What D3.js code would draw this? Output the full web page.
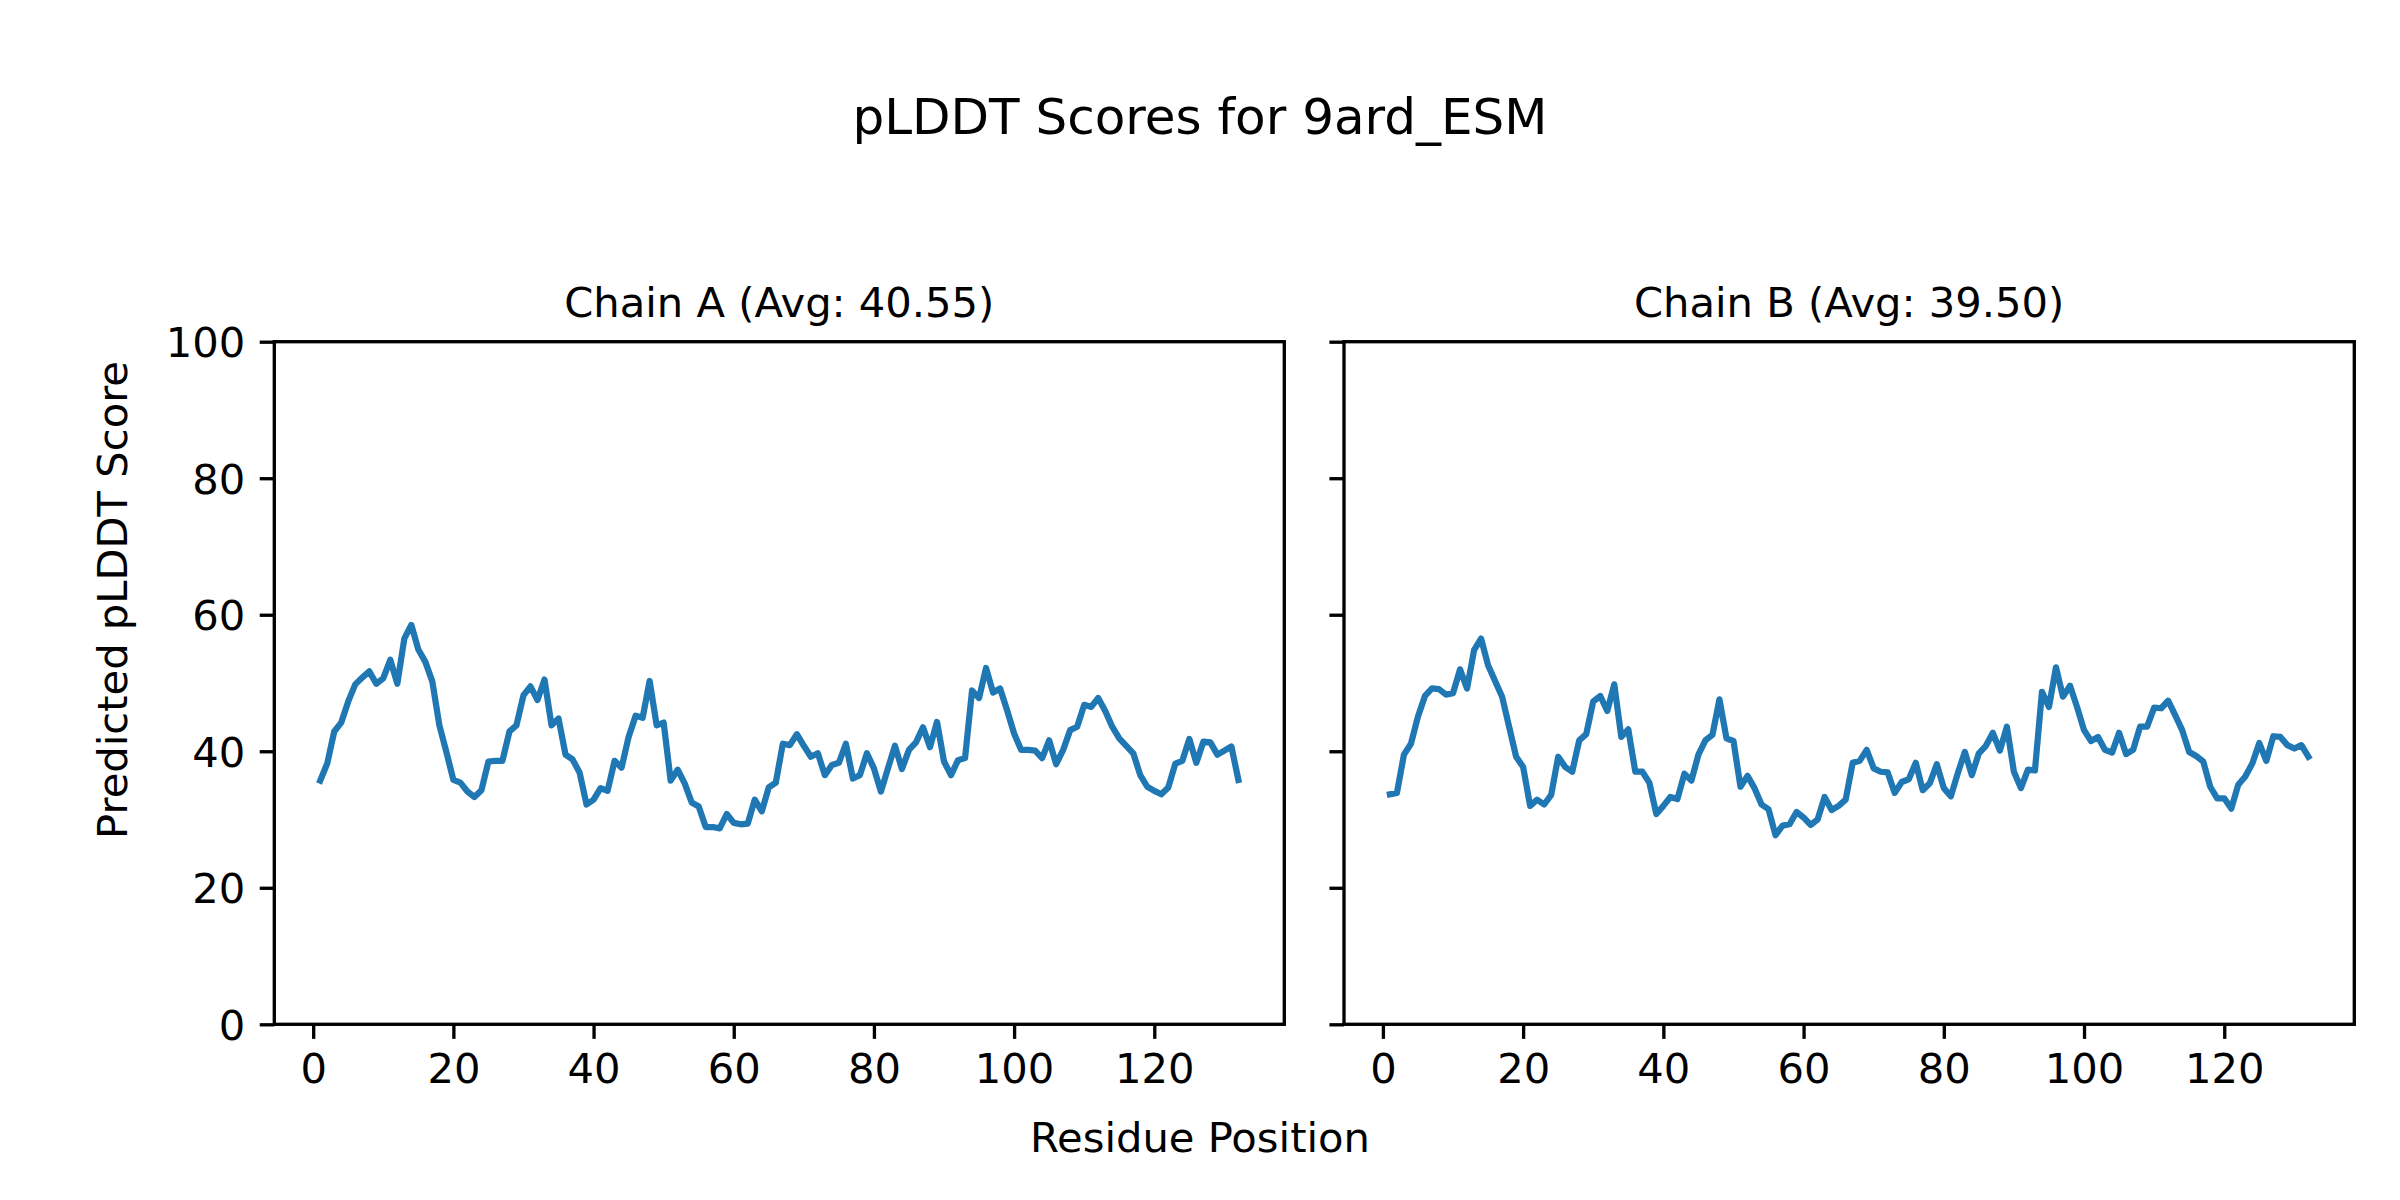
<!DOCTYPE html>
<html>
<head>
<meta charset="utf-8">
<script src="https://cdn.jsdelivr.net/npm/d3@7"></script>
<style>
  html, body { margin: 0; padding: 0; background: #ffffff; }
  svg { display: block; }
  text { font-family: "DejaVu Sans", sans-serif; fill: #000; }
</style>
</head>
<body>
<svg id="chart" width="2400" height="1200"></svg>
<script>
// ---- Data ----
const figTitle = "pLDDT Scores for 9ard_ESM";
const chainNames = ["Chain A (Avg: 40.55)", "Chain B (Avg: 39.50)"];
const xLabel = "Residue Position";
const yLabel = "Predicted pLDDT Score";
const xTicks = [0, 20, 40, 60, 80, 100, 120];
const yTicks = [0, 20, 40, 60, 80, 100];

const chainA = [
  35.7, 38.2, 42.9, 44.2, 47.3, 49.8, 50.8, 51.7, 49.9, 50.7,
  53.4, 49.9, 56.5, 58.5, 54.9, 53.1, 50.2, 43.8, 39.9, 35.8,
  35.4, 34.1, 33.3, 34.3, 38.5, 38.6, 38.6, 42.9, 43.8, 48.2,
  49.5, 47.5, 50.5, 43.8, 44.8, 39.5, 38.8, 36.9, 32.2, 32.9,
  34.6, 34.2, 38.6, 37.6, 42.1, 45.2, 44.9, 50.3, 43.8, 44.2,
  35.7, 37.3, 35.3, 32.5, 31.9, 28.9, 28.9, 28.7, 30.8, 29.5,
  29.3, 29.4, 32.9, 31.2, 34.7, 35.4, 41.1, 40.9, 42.5, 40.8,
  39.2, 39.7, 36.5, 38.0, 38.3, 41.1, 36.0, 36.5, 39.7, 37.5,
  34.1, 37.5, 40.8, 37.4, 40.2, 41.3, 43.5, 40.6, 44.3, 38.5,
  36.5, 38.7, 39.0, 48.9, 47.8, 52.2, 48.6, 49.2, 46.0, 42.6,
  40.2, 40.2, 40.1, 39.0, 41.6, 38.1, 40.2, 43.1, 43.6, 46.8,
  46.5, 47.8, 45.9, 43.6, 41.9, 40.8, 39.7, 36.5, 34.8, 34.2,
  33.7, 34.7, 38.2, 38.6, 41.8, 38.3, 41.4, 41.3, 39.5, 40.1,
  40.7, 35.8
];
const chainB = [
  33.7, 33.9, 39.5, 41.1, 45.1, 48.1, 49.2, 49.1, 48.3, 48.5,
  52.0, 49.2, 54.8, 56.5, 52.6, 50.3, 48.0, 43.6, 39.2, 37.7,
  32.0, 32.9, 32.2, 33.6, 39.2, 37.7, 37.0, 41.6, 42.5, 47.3,
  48.1, 45.9, 49.8, 42.1, 43.2, 37.0, 37.0, 35.4, 30.8, 32.0,
  33.3, 33.0, 36.7, 35.7, 39.5, 41.6, 42.4, 47.6, 41.9, 41.5,
  34.8, 36.4, 34.6, 32.2, 31.5, 27.7, 29.1, 29.3, 31.1, 30.3,
  29.2, 30.0, 33.3, 31.4, 32.0, 32.9, 38.3, 38.6, 40.2, 37.5,
  37.0, 36.9, 33.9, 35.5, 35.9, 38.3, 34.3, 35.3, 38.1, 34.6,
  33.4, 36.8, 39.9, 36.5, 39.7, 40.8, 42.7, 40.1, 43.6, 37.0,
  34.6, 37.3, 37.2, 48.7, 46.5, 52.3, 48.0, 49.6, 46.5, 43.1,
  41.5, 42.1, 40.2, 39.8, 42.7, 39.6, 40.2, 43.6, 43.6, 46.4,
  46.3, 47.4, 45.3, 43.1, 39.9, 39.3, 38.5, 34.8, 33.1, 33.1,
  31.6, 35.1, 36.3, 38.2, 41.2, 38.6, 42.2, 42.1, 40.9, 40.4,
  40.9, 39.2
];
const chains = [chainA, chainB];

// ---- Layout (matplotlib-like, 300 dpi) ----
const pt = 300 / 72;
const W = 2400, H = 1200;
const plotTop = 341.7, plotBottom = 1024.3;
const panels = [{left: 274.3, right: 1284.3}, {left: 1344.0, right: 2354.3}];
const tickLen = 3.5 * pt, tickPad = 3.5 * pt, spineW = 0.8 * pt;
const fs = 10 * pt;       // 41.7px
const titleFs = 12 * pt;  // 50px
const lineColor = "#1f77b4";

const svg = d3.select("#chart");
svg.append("rect").attr("width", W).attr("height", H).attr("fill", "#fff");

const y = d3.scaleLinear().domain([0, 100]).range([plotBottom, plotTop]);

chains.forEach((vals, ci) => {
  const p = panels[ci];
  const n = vals.length;
  const margin = (n - 1) * 0.05;
  const x = d3.scaleLinear().domain([1 - margin, n + margin]).range([p.left, p.right]);

  const g = svg.append("g");

  // line
  const line = d3.line().x((d, i) => x(i + 1)).y(d => y(d));
  g.append("path")
    .datum(vals)
    .attr("d", line)
    .attr("fill", "none")
    .attr("stroke", lineColor)
    .attr("stroke-width", 1.5 * pt)
    .attr("stroke-linejoin", "round")
    .attr("stroke-linecap", "square");

  // x axis
  const xa = g.append("g")
    .attr("transform", `translate(0,${plotBottom})`)
    .call(d3.axisBottom(x).tickValues(xTicks).tickFormat(d3.format("d"))
      .tickSize(tickLen).tickSizeOuter(0).tickPadding(tickPad));
  xa.select(".domain").remove();
  xa.selectAll(".tick line").attr("stroke", "#000").attr("stroke-width", spineW);
  xa.selectAll(".tick text").attr("font-size", fs).attr("font-family", "DejaVu Sans").attr("fill", "#000");

  // y axis
  const ya = g.append("g")
    .attr("transform", `translate(${p.left},0)`)
    .call(d3.axisLeft(y).tickValues(yTicks).tickFormat(ci === 0 ? d3.format("d") : () => "")
      .tickSize(tickLen).tickSizeOuter(0).tickPadding(tickPad));
  ya.select(".domain").remove();
  ya.selectAll(".tick line").attr("stroke", "#000").attr("stroke-width", spineW);
  ya.selectAll(".tick text").attr("font-size", fs).attr("font-family", "DejaVu Sans")
    .attr("fill", "#000").attr("dy", "0.365em");

  // spines
  g.append("rect")
    .attr("x", p.left).attr("y", plotTop)
    .attr("width", p.right - p.left).attr("height", plotBottom - plotTop)
    .attr("fill", "none").attr("stroke", "#000").attr("stroke-width", spineW);

  // panel title
  g.append("text")
    .attr("x", (p.left + p.right) / 2).attr("y", plotTop - 6 * pt)
    .attr("text-anchor", "middle").attr("font-size", fs)
    .text(chainNames[ci]);
});

// figure title
svg.append("text").attr("x", W / 2).attr("y", 134)
  .attr("text-anchor", "middle").attr("font-size", titleFs).text(figTitle);

// shared x label
svg.append("text").attr("x", W / 2).attr("y", 1152)
  .attr("text-anchor", "middle").attr("font-size", fs).text(xLabel);

// shared y label
svg.append("text").attr("transform", `translate(127,600) rotate(-90)`)
  .attr("text-anchor", "middle").attr("font-size", fs).text(yLabel);
</script>
</body>
</html>
